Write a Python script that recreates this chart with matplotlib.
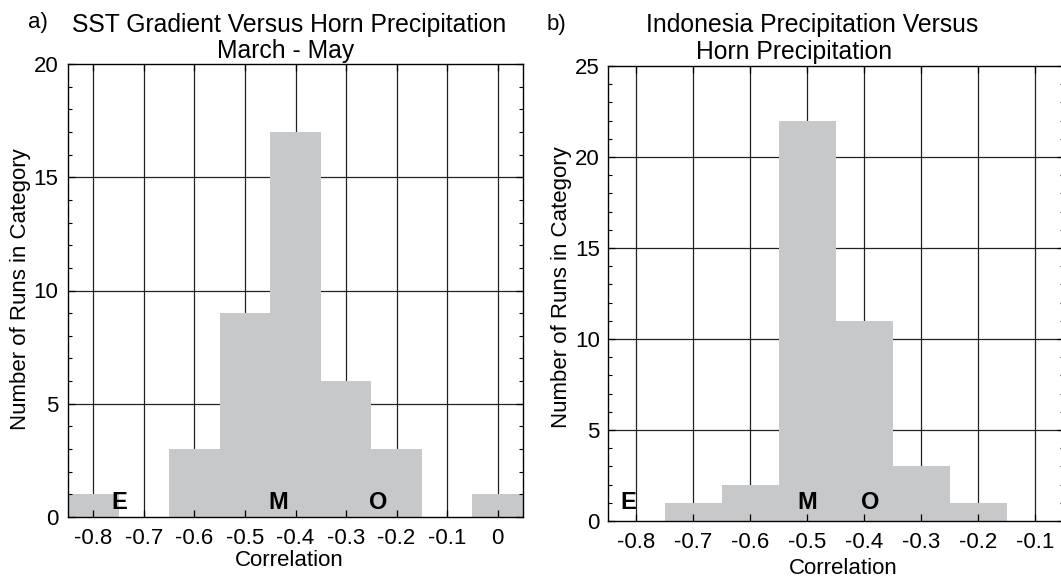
import matplotlib
matplotlib.use("Agg")
import matplotlib.pyplot as plt
import numpy as np
from matplotlib.ticker import MultipleLocator, FixedLocator

plt.rcParams['font.family'] = ['Liberation Sans', 'DejaVu Sans']

# ---- data ----
bins_a = [-0.8, -0.7, -0.6, -0.5, -0.4, -0.3, -0.2, -0.1, 0.0]
counts_a = [1, 0, 3, 9, 17, 6, 3, 0, 1]
xticks_a = [-0.8, -0.7, -0.6, -0.5, -0.4, -0.3, -0.2, -0.1, 0.0]
xticklabels_a = ['-0.8', '-0.7', '-0.6', '-0.5', '-0.4', '-0.3', '-0.2', '-0.1', '0']
yticks_a = [0, 5, 10, 15, 20]
marks_a = {'E': (-0.749, 0.64), 'M': (-0.435, 0.64), 'O': (-0.237, 0.64)}

bins_b = [-0.8, -0.7, -0.6, -0.5, -0.4, -0.3, -0.2, -0.1]
counts_b = [0, 1, 2, 22, 11, 3, 1, 0]
xticks_b = [-0.8, -0.7, -0.6, -0.5, -0.4, -0.3, -0.2, -0.1]
xticklabels_b = ['-0.8', '-0.7', '-0.6', '-0.5', '-0.4', '-0.3', '-0.2', '-0.1']
yticks_b = [0, 5, 10, 15, 20, 25]
marks_b = {'E': (-0.814, 0.99), 'M': (-0.50, 0.99), 'O': (-0.390, 0.99)}

W, H = 1061, 578
fig = plt.figure(figsize=(W / 100, H / 100), dpi=100)

def px(x0, y0, x1, y1):
    return [x0 / W, 1 - y1 / H, (x1 - x0) / W, (y1 - y0) / H]

BAR = '#c7c8ca'
GRID = '#222222'
FS = 16

def panel(rect, bins, counts, xticks, xlabels, yticks, xlim, ylim, marks, ypad):
    ax = fig.add_axes(rect)
    ax.bar(bins, counts, width=0.1, color=BAR, edgecolor='none', zorder=1)
    for x in xticks:
        ax.axvline(x, color=GRID, lw=0.9, zorder=0.5)
    for y in yticks[1:-1]:
        ax.axhline(y, color=GRID, lw=0.9, zorder=0.5)
    ax.set_xlim(*xlim)
    ax.set_ylim(*ylim)
    ax.xaxis.set_major_locator(FixedLocator(xticks))
    ax.set_xticklabels(xlabels)
    ax.set_yticks(yticks)
    ax.yaxis.set_minor_locator(MultipleLocator(1))
    ax.tick_params(which='both', direction='in', top=True, right=True,
                   labelsize=FS, color='black')
    ax.tick_params(which='major', length=5, width=0.9)
    ax.tick_params(which='minor', length=3, width=0.8)
    ax.tick_params(axis='x', pad=8)
    ax.tick_params(axis='y', pad=ypad)
    for s in ax.spines.values():
        s.set_linewidth(1.0)
        s.set_zorder(3)
    for k, (x, y) in marks.items():
        ax.text(x, y, k, ha='center', va='center', fontsize=17,
                fontweight='bold', zorder=4)
    return ax

ax1 = panel(px(68, 64, 523, 517), bins_a, counts_a, xticks_a, xticklabels_a,
            yticks_a, (-0.85, 0.05), (0, 20), marks_a, 7)
ax2 = panel(px(608, 66, 1063.5, 521), bins_b, counts_b, xticks_b, xticklabels_b,
            yticks_b, (-0.85, -0.05), (0, 25), marks_b, 6)

def ftext(x, y, s, **kw):
    fig.text(x / W, 1 - y / H, s, **kw)

TFS = 17.8
ftext(289, 32, 'SST Gradient Versus Horn Precipitation', ha='center', va='baseline', fontsize=TFS)
ftext(286, 58, 'March - May', ha='center', va='baseline', fontsize=TFS)
ftext(812, 32, 'Indonesia Precipitation Versus', ha='center', va='baseline', fontsize=TFS)
ftext(794, 59, 'Horn Precipitation', ha='center', va='baseline', fontsize=TFS)
ftext(28, 28, 'a)', ha='left', va='baseline', fontsize=FS)
ftext(547, 30, 'b)', ha='left', va='baseline', fontsize=FS)

ftext(21, 289, 'Number of Runs in Category', ha='center', va='center', rotation=90, fontsize=FS)
ftext(561, 287, 'Number of Runs in Category', ha='center', va='center', rotation=90, fontsize=FS)
ftext(289, 566, 'Correlation', ha='center', va='baseline', fontsize=FS)
ftext(843, 574, 'Correlation', ha='center', va='baseline', fontsize=FS)

fig.savefig('out.png', dpi=100)
